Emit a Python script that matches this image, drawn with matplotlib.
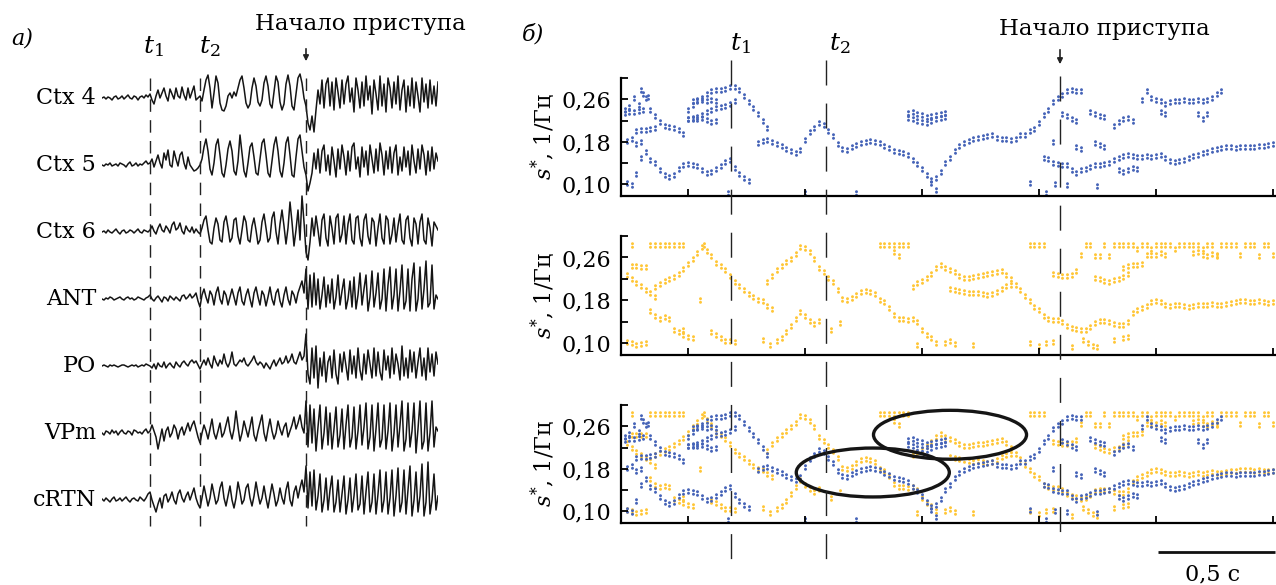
import numpy as np
import matplotlib
matplotlib.use('Agg')
import matplotlib.pyplot as plt
from matplotlib.path import Path
from matplotlib.patches import Ellipse

plt.rcParams['font.family'] = 'DejaVu Serif'
plt.rcParams['mathtext.fontset'] = 'dejavuserif'

W, H = 1276, 585

# ================= panel a: LFP traces (amplitude, px; up = positive)
channels = ['Ctx 4', 'Ctx 5', 'Ctx 6', 'ANT', 'PO', 'VPm', 'cRTN']
t1_a, t2_a, onset_a, end_a = 0.48, 0.98, 2.04, 3.36

ctx4 = [[0, 1, -1, 1, 0, -2, 1, 2, -1, 0, 2, -1, 1, 3, 0, -1, 2, 1, -2, 1, 2, 0, 3, 1],
        [4, -2, -6, 2, 8, 0, 5, 10, 2, -3, 9, 4, -1, 10, 2, 0, 11, 3, -2, 10, 0, 6, 12, -2, 0],
        [2, -3, 8, 18, 23, 10, -10, 5, 22, 15, -5, -12, -13, -8, 2, 5, 0, 6, 2, 10, 18, 22, 10, -5, -10, -6,
         10, 20, 12, -4, -8, -2, 15, 22, 12, -6, -10, 6, 22, 16, -4, -12, -6, 14, 23, 12, -8, -12, 4, 20, 24, 15, 0],
        [-8, -25, -32, -18, -34, -12, 8, -6, 18, -10, 14, 20, -8, 16, -12, 20, 6, -10, 18, -6, 14, 22, -4, 10,
         -14, 20, 8, -10, 16, -8, 22, -2, 12, -16, 18, 4, -12, 22, -8, 14, -14, 20, 10, -10, 16, -6, 22, -12, 8,
         18, -14, 12, -8, 20, -10, 16, 2, -14, 20, -4, 14, -10, 18, -6, 12, -8, 16]]
ctx5 = [[0, -1, 1, 0, 2, -1, 0, 1, -1, 2, 1, 0, -2, 1, 3, -1, 0, 2, -1, 1, 0, 2, 4, 1],
        [2, 6, -2, 4, 10, 2, -3, 12, 5, 15, 0, -2, 14, 6, -1, 10, 13, 2, -4, 8, 0, -3, -6, -5, -3],
        [0, 6, 18, 26, 14, -4, -10, 2, 20, 26, 10, -8, -12, 0, 16, 24, 14, -6, -10, 4, 30, 12, -6, -12, 2, 18,
         22, 8, -8, -10, 6, 22, 26, 10, -8, -12, 4, 20, 28, 14, -6, -12, 2, 22, 28, 10, -10, -12, 8, 26, 30, 14, -2],
        [-10, -26, -18, -8, 12, -4, 16, -8, 14, 20, -6, 10, -10, 18, 4, -12, 16, -4, 20, 8, -10, 14, -6, 18, 22,
         -4, 8, -12, 18, -2, 14, -10, 20, 6, -8, 16, -6, 22, 10, -10, 14, -4, 18, -8, 12, 20, -10, 8, -6, 18, -2,
         14, -10, 20, 4, -8, 16, -4, 20, 10, -10, 14, -6, 18, -4, 12, 4]]
ctx6 = [[0, 1, -1, 2, 0, -1, 1, 3, 0, -2, 1, 2, -1, 0, 2, 1, -1, 1, 3, 0, -1, 2, 1, 0],
        [2, 6, 1, -2, 4, 8, 2, 0, 6, 3, -1, 7, 10, 2, 4, 9, 1, -2, 6, 2, 0, 5, -1, 3, 0],
        [-2, 4, 12, 16, 2, -10, -12, 4, 14, 8, -8, -10, 10, 16, 4, -10, -6, 12, 14, -4, -12, 2, 16, 10, -8, -10,
         6, 14, 2, -12, -8, 10, 18, 4, -10, -6, 14, 20, 0, -12, 8, 22, 6, -12, 4, 30, 10, -14, 2, 22, -8, 36, 10],
        [-20, -28, -10, 14, -4, 16, 2, -14, 12, 18, -6, -14, 16, 4, -12, 14, 18, -10, -2, 16, -12, 8, 18, -8,
         -12, 14, 16, -6, -14, 12, 18, -4, -12, 14, 10, -14, 4, 18, -6, -12, 16, 12, -12, -2, 14, -10, 6, 18, -8,
         -12, 12, 16, -6, -14, 14, 8, -12, 10, 18, -8, -12, 14, 4, -14, 10, 6, 2]]
ant = [[0, -1, 1, 0, 2, 1, -1, 0, 1, 2, 0, -1, 1, 2, 0, 1, -1, 0, 2, 1, 0, -1, 1, 2],
       [4, 0, -2, 1, 3, 0, -3, 2, 1, -2, 3, 1, -1, 2, 0, -2, 3, 4, 0, 2, 5, 1, 3, 6, -2],
       [-8, 4, 10, 2, -4, 8, 4, -6, 6, 12, 0, -5, 8, 4, -6, 2, 10, 2, -6, 6, 12, -2, -6, 4, 10, 0, -8, 6, 12,
        2, -6, 8, 4, -7, 2, 12, 0, -6, 6, 10, -2, -8, 4, 12, 0, -6, 8, 4, -4, 6, 12, 18, 6],
       [30, -10, 24, -8, 26, -6, 20, -10, 4, 22, -8, 14, -4, 20, -10, 2, 24, -6, 8, 20, -10, 0, 18, -8, 22,
        -10, 4, 26, -6, 10, 24, -12, 2, 28, -8, 6, 26, -10, 0, 30, -12, 14, 32, -10, 4, 30, -12, 8, 34, -10, -2,
        30, -12, 20, 36, -12, 0, 32, -10, 10, 38, -8, -4, 34, -10, 4, 0]]
po = [[0, 1, 0, -1, 1, 0, 1, 0, -1, 0, 1, 1, 0, -1, 0, 1, 0, 1, -1, 0, 1, 0, 2, 1],
      [0, -2, 2, -3, 3, 0, -1, 4, -2, 1, 3, 0, -2, 4, 1, -1, 3, 5, 2, 0, 4, 6, 3, 5, 1],
      [-3, 2, 6, 1, 8, 2, -2, 10, 4, 0, 6, 2, 12, 3, -1, 4, 14, 2, 0, 3, 6, 4, 8, 2, 0, 3, 6, 10, 4, 1, 4, 2,
       -2, 3, 0, -3, 2, 6, 0, 4, 8, 2, 4, 10, 3, 6, 12, 4, 2, 8, 14, 6, 10],
      [32, -8, -18, 18, -12, 20, -22, 8, -10, 14, -16, 4, 10, -12, 16, -8, -18, 12, -6, 14, 0, -14, 16, -8,
       10, -12, 18, -4, -14, 12, -8, 16, 2, -12, 18, -10, 14, -6, -14, 16, -4, 10, -12, 18, -8, 12, 2, -14, 20,
       -10, 8, -12, 16, -6, 14, -12, 4, 18, -10, 8, -14, 18, -6, 12, -10, 14, 2]]
vpm = [[0, -2, 2, 1, -1, 3, 0, 2, -2, 1, 3, 0, -1, 2, 1, -2, 3, 2, 0, 1, -1, 2, 4, 0],
       [2, 8, 2, -4, -16, -6, 4, -8, 2, 6, -4, 0, 8, 4, -6, 2, 6, -2, 4, 10, 2, 8, 12, 4, -4],
       [-10, 0, 8, 2, -6, 4, 14, 0, -6, 2, 10, -4, 0, 8, 16, 2, -6, 4, 22, 6, -8, 0, 12, 4, -4, 6, 16, -2, -8,
        2, 10, 18, 0, -8, 4, 14, 2, -6, 0, 12, 4, -2, 6, 10, -4, 2, 8, 16, 4, 10, 18, 6, 0],
       [32, -14, 28, -10, 24, -18, 6, 28, -16, 0, 26, -12, 20, -16, 4, 26, -14, -2, 24, -16, 8, 28, -14, -4,
        26, -16, 2, 28, -12, 6, 30, -16, -4, 28, -18, 4, 30, -14, -6, 28, -16, 2, 30, -18, 0, 28, -14, 8, 32,
        -18, -6, 30, -14, 2, 30, -20, 4, 32, -16, -8, 30, -18, 0, 32, -14, 6, 2]]
crtn = [[1, -1, 2, 0, -2, 1, 3, -1, 0, 2, -1, 1, 3, 0, -2, 1, 2, 0, -1, 3, 1, -1, 2, 6],
        [8, 0, -6, -12, -4, 2, -8, 4, 6, -2, 2, 8, 0, -4, 6, 10, 2, -2, 4, 8, 0, 6, 12, 2, -4],
        [-8, 2, 14, 4, -6, 2, 16, 6, -4, 0, 12, 18, 2, -6, 4, 14, 0, -8, 2, 18, 8, -4, 0, 12, 16, 2, -6, 4,
         18, 6, -4, 2, 14, 2, -8, 4, 16, 6, -6, 0, 12, 2, -4, 10, 18, 0, -6, 8, 14, 2, 12, 20, 8],
        [34, -8, 28, -6, 30, -10, 4, 26, -12, 0, 22, -10, 10, 24, -12, -2, 20, -12, 6, 24, -14, 0, 22, -12, 4,
         26, -10, -4, 24, -14, 8, 28, -12, -2, 26, -14, 6, 30, -12, 0, 28, -14, 2, 30, -16, 4, 32, -12, -2, 30,
         -14, 10, 34, -16, 0, 28, -12, 4, 36, -16, -2, 38, -14, 0, 26, -10, 4]]
traces = [ctx4, ctx5, ctx6, ant, po, vpm, crtn]

# ================= panel b: s* ridges, (start time s, values x1e-3), step 0.02 s
t1_b, t2_b, onset_b = 0.184, 0.59, 1.59
dt = 0.02
blue_ridges = [
    (0.30, [177, 182, 184, 180, 176, 172, 166, 162, 158, 164, 184, 198, 206, 215, 212, 200, 190, 175, 167, 165,
            170, 174, 178, 180, 181, 180, 178, 173, 168, 163, 160, 158, 155, 146, 138, 128, 118, 108, 112, 124,
            140, 150, 162, 172, 178, 182, 186, 188, 189, 190, 192, 188, 186, 185, 184, 186, 192, 193, 200, 204,
            215, 230, 240, 255, 262, 268, 275, 277, 276, 275]),
    (-0.20, [278, 262, 240, 228, 218, 210, 207, 205, 202, 195]),
    (-0.27, [240, 245, 262, 250, 270, 265]),
    (-0.27, [235, 236, 236, 238, 240]),
    (-0.26, [102, 98, 120, 150, 160, 146, 140, 126, 118, 114, 118, 128, 136, 138, 136, 134, 126, 122, 124, 128,
             134, 142, 146, 130, 120, 112, 106]),
    (0.00, [240, 250, 256, 262, 270, 276, 278, 278, 280, 283, 283, 278, 266, 255, 244, 232, 220, 205]),
    (0.00, [222, 224, 226, 230, 236, 240, 244, 246, 248, 252, 256]),
    (0.02, [256, 258, 258, 256, 258, 257]),
    (0.00, [222, 222, 222, 224, 221, 218, 220]),
    (0.94, [234, 236, 232, 230, 226, 228, 230, 232, 234]),
    (0.94, [224, 222, 220, 218, 216, 220, 222, 224, 226]),
    (1.52, [150, 148, 140, 138, 136, 136, 126, 122, 126, 128, 132, 136, 137, 138, 140, 146, 150, 154, 156, 154,
            152, 152, 154, 152, 154, 156, 150, 144, 142, 144, 146, 150, 154, 156, 158, 160, 164, 166, 168, 170,
            170, 168, 170, 170, 171, 170, 172, 172, 174, 176]),
    (1.84, [126, 124, 126, 130, 128]),
    (1.60, [232, 228, 222, 220]),
    (1.72, [236, 232, 228, 226]),
    (1.74, [178, 174, 170]),
    (1.82, [210, 218, 222, 224, 220]),
    (1.66, [170, 166]),
    (1.94, [258, 276, 262, 258, 256, 252, 254, 256, 256, 258, 257, 256, 258, 256, 258, 262, 270, 276]),
    (2.02, [236, 232]),
    (2.18, [232, 222, 232]),
    (-0.22, [200, 202, 203, 204, 206]),
    (-0.26, [182, 186, 176, 180]),
]
blue_single_t = [1.46, 1.53, 1.57, 1.62, 1.75, 1.56, 0.50, 0.72, 0.17, 1.06, 1.04]
blue_single_s = [103, 83, 100, 98, 96, 180, 83, 83, 83, 90, 103]

yellow_ridges = [
    (-0.16, [283, 283, 283, 283, 283, 283, 283, 283]),
    (-0.26, [228, 220, 212, 206, 200, 194, 186]),
    (-0.24, [244, 244, 243, 243]),
    (-0.14, [205, 210, 216, 220, 224, 230, 238, 248, 258, 268, 280, 272, 262, 250, 244, 236, 226, 214, 206,
             200, 192, 186, 180, 178, 170, 164]),
    (0.34, [214, 226, 236, 244, 252, 258, 266, 280, 278, 270, 258, 240, 232, 222, 214, 200, 182, 180, 184, 190,
            196, 198, 196, 192, 180, 176, 166, 152, 146, 146, 144, 145, 140, 125, 115, 110, 100]),
    (0.96, [205, 212, 216, 222, 230, 240, 246, 240, 236, 232, 226, 222, 222, 224, 226, 227, 229, 231, 233, 234,
            228, 220, 208, 199, 188, 178, 168, 162, 150, 145, 143, 143, 140, 132, 128, 126, 124, 125, 130, 138,
            141, 141, 140, 136, 134, 134, 140, 156, 162, 166, 170, 176, 178, 176, 172, 170, 171, 172, 170, 168,
            170, 172, 171, 172, 174, 172, 172, 174, 175, 176, 178, 178, 177, 176, 178, 176, 175, 176]),
    (1.12, [202, 200, 198, 196, 194, 193, 194, 192, 190, 192, 196, 202, 206, 208]),
    (1.56, [230, 228, 226, 226, 228, 234]),
    (1.74, [222, 220, 216, 214, 218, 220, 224, 230]),
    (1.86, [240, 244, 246, 246, 248]),
    (1.68, [265, 283, 283, 262, 262, 283, 262, 283, 283, 283, 283, 283, 276, 283, 283, 276, 283, 283, 283, 283,
            276, 283, 283, 283, 283, 283, 276, 283, 283, 262, 283, 283, 283, 283, 265, 283, 283, 283, 262, 283,
            283, 265]),
    (1.96, [265, 265, 265, 268, 265]),
    (2.16, [268, 270, 265, 262, 266, 265]),
    (0.82, [283, 283, 283, 283, 283, 283, 283]),
    (0.88, [270, 262]),
    (1.46, [283, 283, 283, 283]),
    (-0.26, [102, 100, 96, 98, 100]),
    (-0.16, [160, 150, 146, 148, 146]),
    (-0.06, [124, 120, 116, 112, 110]),
    (0.10, [120, 115, 110, 105]),
    (0.18, [104, 102]),
    (0.38, [104, 110, 120, 132, 146, 158]),
    (0.50, [150, 142, 136, 142]),
    (1.10, [100, 104, 98]),
    (1.69, [106, 100, 94, 92]),
    (1.86, [110, 112]),
]
yellow_single_t = [0.32, 0.35, 0.61, 0.65, 0.98, 1.22, 1.46, 1.50, 1.53, 1.56, 1.64, 1.82, 0.07, -0.02, 0.05, -0.24]
yellow_single_s = [106, 97, 125, 137, 97, 96, 100, 95, 100, 102, 92, 106, 283, 125, 180, 283]

ellipse_c = [(0.79, 0.173), (1.12, 0.244)]
ellipse_wh = (0.654, 0.092)
scale_bar = (2.01, 0.5)

blue = '#4664b8'
yellow = '#ffc637'


def ridge_points(ridges, single_t, single_s):
    ts, ss = [], []
    for t0, vals in ridges:
        for i, v in enumerate(vals):
            ts.append(t0 + i * dt)
            ss.append(v / 1000)
    ts += list(single_t)
    ss += [v / 1000 for v in single_s]
    return np.array(ts), np.array(ss)


bt, bs = ridge_points(blue_ridges, blue_single_t, blue_single_s)
yt, ys = ridge_points(yellow_ridges, yellow_single_t, yellow_single_s)

# marker: two small dots stacked vertically
pair = Path.make_compound_path(Path.circle((0, 0.55), 0.45), Path.circle((0, -0.55), 0.45))
msize = 22

fig = plt.figure(figsize=(W / 100, H / 100), dpi=100)

# ---------- left panel
axL = fig.add_axes([102 / W, 0, 336 / W, 1])
axL.set_xlim(0, end_a)
axL.set_ylim(H, 0)
axL.axis('off')
for i, (name, tr) in enumerate(zip(channels, traces)):
    pre, m1, m2, post = tr
    x = np.concatenate([np.linspace(0, t1_a, len(pre), endpoint=False),
                        np.linspace(t1_a, t2_a, len(m1), endpoint=False),
                        np.linspace(t2_a, onset_a, len(m2), endpoint=False),
                        np.linspace(onset_a, end_a, len(post))])
    y = np.concatenate([pre, m1, m2, post])
    base = 98 + i * 67
    axL.plot(x, base - y, color='#151515', lw=1.1)
    axL.text(-0.06, base, name, ha='right', va='center', fontsize=16)
for tx in (t1_a, t2_a, onset_a):
    axL.plot([tx, tx], [78, 526], color='#222222', lw=1, dashes=(9, 6))
axL.text(t1_a + 0.03, 47, '$t_1$', ha='center', va='center', fontsize=18)
axL.text(t2_a + 0.1, 47, '$t_2$', ha='center', va='center', fontsize=18)
axL.text(2.58, 24, 'Начало приступа', ha='center', va='center', fontsize=16.5)
axL.annotate('', xy=(onset_a, 64), xytext=(onset_a, 46),
             arrowprops=dict(arrowstyle='-|>', lw=1.2, color='#222222', mutation_scale=8))
axL.text(-0.8, 38, 'а)', ha='center', va='center', fontsize=16, style='italic')

# ---------- right panels
tops = [78, 236, 405]
heights = [118, 119, 118]
axes = []
for k in range(3):
    ax = fig.add_axes([621 / W, 1 - (tops[k] + heights[k]) / H, 655 / W, heights[k] / H])
    ax.set_xlim(-0.286, 2.513)
    ax.set_ylim(0.078, 0.299)
    ax.set_xticks([0, 0.5, 1.0, 1.5, 2.0, 2.5])
    ax.set_xticklabels([])
    ax.set_yticks([0.10, 0.14, 0.18, 0.22, 0.26, 0.30])
    ax.set_yticklabels(['0,10', '', '0,18', '', '0,26', ''])
    ax.tick_params(direction='in', length=5, width=1.3, labelsize=16, pad=7)
    for sp in ('top', 'right'):
        ax.spines[sp].set_visible(False)
    for sp in ('left', 'bottom'):
        ax.spines[sp].set_linewidth(1.6)
    ax.text(-0.118, 0.5, '$s^{*}$, 1/Гц', transform=ax.transAxes, rotation=90,
            ha='center', va='center', fontsize=16)
    axes.append(ax)

axes[0].scatter(bt, bs, marker=pair, s=msize, c=blue, linewidths=0, clip_on=False)
axes[1].scatter(yt, ys, marker=pair, s=msize, c=yellow, linewidths=0, clip_on=False)
axes[2].scatter(yt, ys, marker=pair, s=msize, c=yellow, linewidths=0, clip_on=False)
axes[2].scatter(bt, bs, marker=pair, s=msize, c=blue, linewidths=0, clip_on=False)
for c in ellipse_c:
    axes[2].add_patch(Ellipse(c, ellipse_wh[0], ellipse_wh[1], fill=False, lw=2.4, ec='#151515', clip_on=False))

# overlay for event lines and labels (y in px)
ov = fig.add_axes([621 / W, 0, 655 / W, 1])
ov.set_xlim(-0.286, 2.513)
ov.set_ylim(H, 0)
ov.axis('off')
ov.patch.set_alpha(0)
for tx in (t1_b, t2_b):
    ov.plot([tx, tx], [60, 568], color='#222222', lw=1, dashes=(18, 13))
ov.plot([onset_b, onset_b], [76, 545], color='#222222', lw=1, dashes=(18, 13))
ov.text(t1_b + 0.04, 44, '$t_1$', ha='center', va='center', fontsize=18)
ov.text(t2_b + 0.06, 44, '$t_2$', ha='center', va='center', fontsize=18)
ov.text(1.78, 29, 'Начало приступа', ha='center', va='center', fontsize=16.5)
ov.annotate('', xy=(onset_b, 67), xytext=(onset_b, 47),
            arrowprops=dict(arrowstyle='-|>', lw=1.2, color='#222222', mutation_scale=8))
ov.text(-0.662, 35, 'б)', ha='center', va='center', fontsize=16, style='italic')
ov.plot([scale_bar[0], scale_bar[0] + scale_bar[1]], [552, 552], color='#111111', lw=2, solid_capstyle='butt')
ov.text(scale_bar[0] + scale_bar[1] / 2 - 0.02, 574, '0,5 с', ha='center', va='center', fontsize=16)

fig.savefig('out.png', dpi=100)
